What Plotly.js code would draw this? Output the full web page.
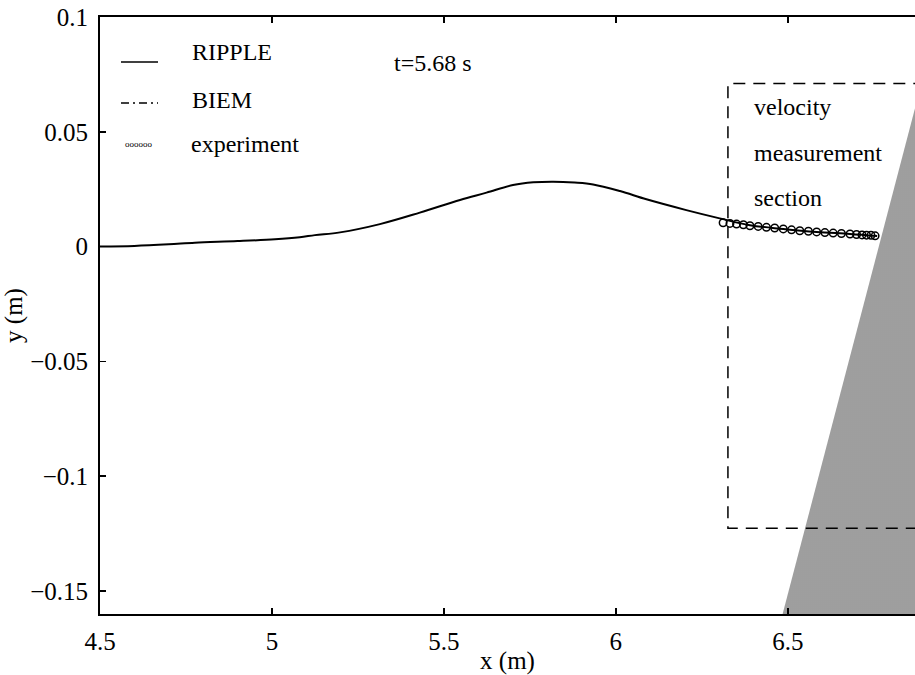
<!DOCTYPE html>
<html>
<head>
<meta charset="utf-8">
<script src="https://cdn.plot.ly/plotly-3.0.1.min.js"></script>
<style>html,body{margin:0;padding:0;background:#fff;}#chart{width:915px;height:675px;}</style>
</head>
<body>
<div id="chart"></div>
<script>
// RIPPLE free-surface profile at t = 5.68 s
const rippleX = [4.5, 4.6, 4.7, 4.776, 4.9, 5.009, 5.081, 5.125, 5.198, 5.314, 5.43, 5.547, 5.624, 5.701, 5.76, 5.818, 5.88, 5.934, 6.012, 6.089, 6.205, 6.302, 6.39, 6.487, 6.584, 6.681, 6.76];
const rippleY = [0.0, 0.0003, 0.0010, 0.0017, 0.0024, 0.0032, 0.0041, 0.0050, 0.0062, 0.0098, 0.0148, 0.0203, 0.0235, 0.0268, 0.0280, 0.0283, 0.0279, 0.0271, 0.0242, 0.0206, 0.0159, 0.0123, 0.0093, 0.0077, 0.0064, 0.0055, 0.0046];
// experiment points
const expX = [6.312, 6.332, 6.351, 6.371, 6.390, 6.414, 6.438, 6.462, 6.487, 6.511, 6.535, 6.560, 6.584, 6.608, 6.632, 6.656, 6.681, 6.700, 6.716, 6.729, 6.742, 6.754];
const expY = [0.0104, 0.0101, 0.0098, 0.0095, 0.0091, 0.0088, 0.0084, 0.0081, 0.0077, 0.0073, 0.0069, 0.0067, 0.0064, 0.0061, 0.0059, 0.0057, 0.0055, 0.0053, 0.0051, 0.0050, 0.0049, 0.0047];
// sloping beach
const beachX = [6.485, 6.88, 6.88, 6.485];
const beachY = [-0.16, 0.066, -0.16, -0.16];
// velocity measurement section box
const boxX = [6.9, 6.326, 6.326, 6.9];
const boxY = [0.071, 0.071, -0.1227, -0.1227];
const xTicks = [4.5, 5, 5.5, 6, 6.5];
const yTicks = [-0.15, -0.1, -0.05, 0, 0.05, 0.1];

const F = '"Liberation Serif", "Times New Roman", serif';

const traces = [
  {x: beachX, y: beachY, mode: 'lines', fill: 'toself', line: {width: 0, color: '#888'},
   fillcolor: '#a9a9a9',
   fillpattern: {shape: '.', fgcolor: '#5a5a5a', bgcolor: '#c4c4c4', size: 2, solidity: 0.35},
   hoverinfo: 'skip', showlegend: false},
  {x: boxX, y: boxY, mode: 'lines', line: {color: '#000', width: 1.5, dash: '12px,8px'}, showlegend: false},
  {x: rippleX, y: rippleY, mode: 'lines', line: {color: '#000', width: 2, shape: 'spline'}, name: 'RIPPLE', showlegend: false},
  {x: expX, y: expY, mode: 'markers', marker: {symbol: 'circle-open', size: 7.5, color: '#000', line: {width: 1.5, color: '#000'}}, name: 'experiment', showlegend: false}
];

function px(x){ return (x - 100) / 815; }
function py(y){ return (614 - y) / 597; }

const txt = (t, x, y, size, anchor) => ({text: t, x: px(x), y: py(y), xref: 'paper', yref: 'paper', xanchor: anchor || 'left', yanchor: 'middle', showarrow: false, font: {family: F, size: size, color: '#000'}});

const layout = {
  width: 915, height: 675,
  margin: {l: 100, r: 0, t: 17, b: 61},
  font: {family: F, size: 24, color: '#000'},
  paper_bgcolor: '#fff', plot_bgcolor: '#fff',
  showlegend: false,
  xaxis: {range: [4.5, 6.87], tickvals: xTicks, ticktext: xTicks.map(String), ticks: 'inside', ticklen: 6, tickwidth: 1.5, tickcolor: '#000',
    showline: true, linewidth: 2, linecolor: '#000', mirror: 'ticks', showgrid: false, zeroline: false,
    tickfont: {family: F, size: 25, color: '#000'}, ticklabelstandoff: 4,
    title: {text: 'x (m)', font: {family: F, size: 25, color: '#000'}, standoff: 0}},
  yaxis: {range: [-0.16, 0.1], tickvals: yTicks, ticks: 'inside', ticklen: 6, tickwidth: 1.5, tickcolor: '#000',
    showline: true, linewidth: 2, linecolor: '#000', mirror: false, showgrid: false, zeroline: false,
    tickfont: {family: F, size: 25, color: '#000'}, ticklabelstandoff: 5,
    title: {text: 'y (m)', font: {family: F, size: 25, color: '#000'}, standoff: 0}},
  shapes: [
    {type: 'line', xref: 'paper', yref: 'paper', x0: px(121), x1: px(158), y0: py(62), y1: py(62), line: {color: '#000', width: 1.5}},
    {type: 'line', xref: 'paper', yref: 'paper', x0: px(121), x1: px(158), y0: py(103), y1: py(103), line: {color: '#000', width: 1.5, dash: '8px,4px,2px,4px'}}
  ],
  annotations: [
    txt('RIPPLE', 190, 52, 24),
    txt('BIEM', 190, 100, 24),
    txt('experiment', 189, 144, 24),
    txt('oooooo', 139, 144, 9, 'center'),
    txt('t=5.68 s', 392, 63, 24),
    txt('velocity', 752, 107, 24),
    txt('measurement', 752, 153, 24),
    txt('section', 752, 198, 24)
  ]
};

Plotly.newPlot('chart', traces, layout, {displayModeBar: false, staticPlot: true});
</script>
</body>
</html>
